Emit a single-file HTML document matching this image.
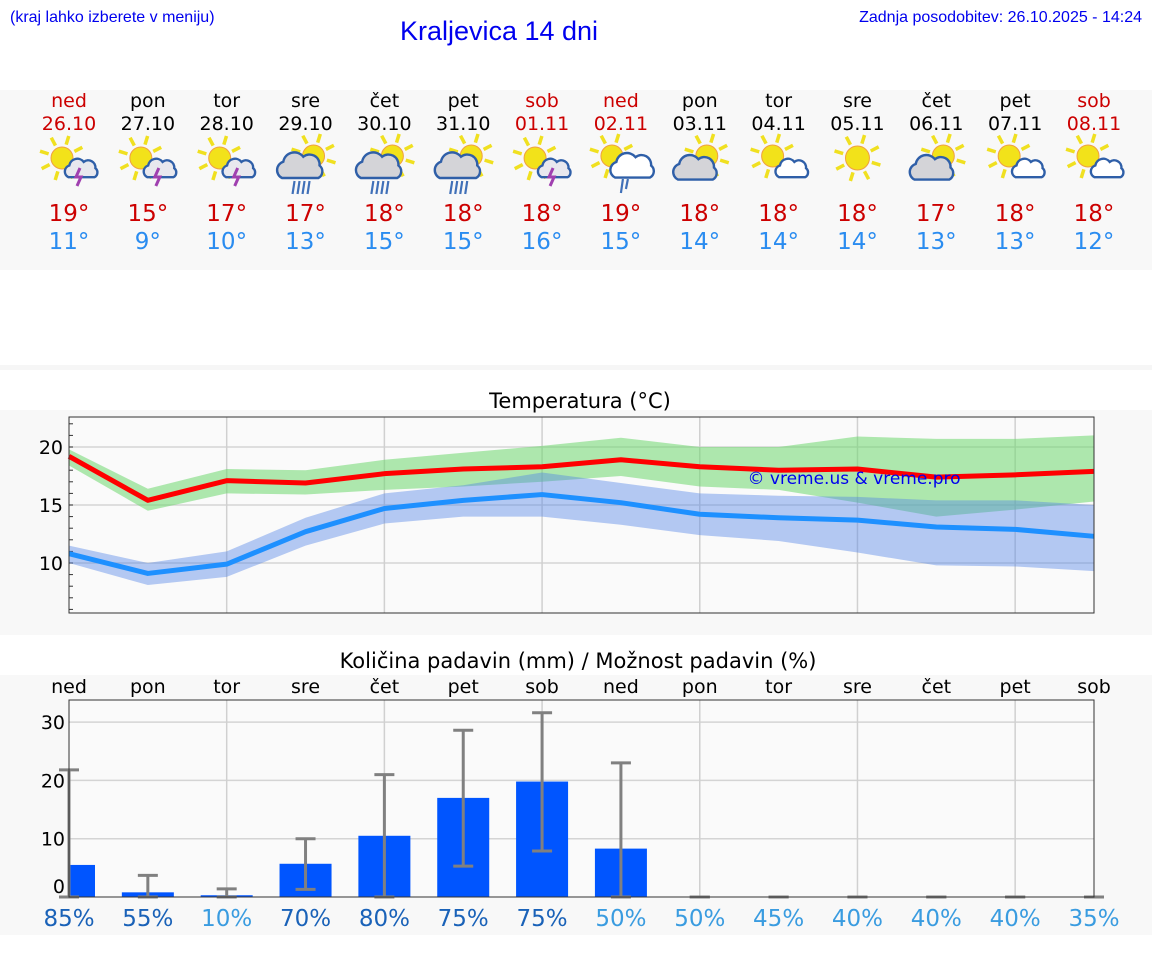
<!DOCTYPE html>
<html><head><meta charset="utf-8">
<style>
html,body{margin:0;padding:0;background:#fff;}
svg{display:block;font-family:"DejaVu Sans","Liberation Sans",sans-serif;}
</style></head>
<body>
<svg id="root" width="1152" height="975" viewBox="0 0 1152 975" xmlns="http://www.w3.org/2000/svg">
  <text x="10" y="22" font-family="Liberation Sans, sans-serif" font-size="16" fill="#0000ee">(kraj lahko izberete v meniju)</text>
  <text x="499" y="40" text-anchor="middle" font-family="Liberation Sans, sans-serif" font-size="27" fill="#0000ee">Kraljevica 14 dni</text>
  <text x="1142" y="22" text-anchor="end" font-family="Liberation Sans, sans-serif" font-size="16" fill="#0000ee">Zadnja posodobitev: 26.10.2025 - 14:24</text>
  <rect x="0" y="90" width="1152" height="180" fill="#f8f8f8"/>
  <rect x="0" y="365" width="1152" height="5" fill="#f6f6f6"/>
  <rect x="0" y="410" width="1152" height="225" fill="#f8f8f8"/>
  <text x="580" y="408" text-anchor="middle" font-size="21" fill="#000">Temperatura (°C)</text>
  <rect x="0" y="675" width="1152" height="260" fill="#f8f8f8"/>
  <text x="578" y="668" text-anchor="middle" font-size="21" fill="#000">Količina padavin (mm) / Možnost padavin (%)</text>
  <g id="strip"></g>
  <g id="temp"></g>
  <g id="precip"></g>
</svg>
<script>
const NS="http://www.w3.org/2000/svg";
const days=["ned","pon","tor","sre","čet","pet","sob","ned","pon","tor","sre","čet","pet","sob"];
const dates=["26.10","27.10","28.10","29.10","30.10","31.10","01.11","02.11","03.11","04.11","05.11","06.11","07.11","08.11"];
const weekend=[1,0,0,0,0,0,1,1,0,0,0,0,0,1];
const iconType=[0,0,0,1,1,1,0,2,3,4,5,3,4,4];
const hiDay=[19,15,17,17,18,18,18,19,18,18,18,17,18,18];
const loDay=[11,9,10,13,15,15,16,15,14,14,14,13,13,12];
const tMax=[19.2,15.4,17.1,16.9,17.7,18.1,18.3,18.9,18.3,18.0,18.1,17.4,17.6,17.9];
const tMaxHi=[19.8,16.4,18.1,18.0,18.9,19.5,20.1,20.8,20.0,20.0,20.9,20.7,20.7,21.0];
const tMaxLo=[18.4,14.5,16.0,15.9,16.3,16.6,17.0,17.5,16.6,16.3,15.2,14.0,14.6,15.3];
const tMin=[10.8,9.1,9.9,12.7,14.7,15.4,15.9,15.2,14.2,13.9,13.7,13.1,12.9,12.3];
const tMinHi=[11.5,10.0,11.0,13.9,16.0,16.7,17.8,16.9,16.0,15.8,15.7,15.4,15.4,15.0];
const tMinLo=[10.0,8.1,8.8,11.5,13.4,14.0,14.0,13.3,12.4,11.9,10.9,9.8,9.7,9.3];
const tTicks=[10,15,20];
const rain=[5.5,0.8,0.3,5.7,10.5,17.0,19.8,8.3,0,0,0,0,0,0];
const rainLo=[0,0,0,1.3,0,5.3,7.9,0,0,0,0,0,0,0];
const rainHi=[21.8,3.7,1.4,10.0,21.0,28.6,31.6,23.0,0,0,0,0,0,0];
const prob=[85,55,10,70,80,75,75,50,50,45,40,40,40,35];
const rTicks=[0,10,20,30];

function mk(tag,attrs,parent,txt){const e=document.createElementNS(NS,tag);for(const k in attrs)e.setAttribute(k,attrs[k]);if(txt!==undefined)e.textContent=txt;parent.appendChild(e);return e;}
const X0=69,X1=1094;
const dx=i=>X0+i*(X1-X0)/13;

const strip=document.getElementById('strip');
function sun(g,cx,cy,r){
  for(let k=0;k<8;k++){const a=k*Math.PI/4+0.3;mk('line',{x1:cx+Math.cos(a)*(r+3),y1:cy+Math.sin(a)*(r+3),x2:cx+Math.cos(a)*(r+12),y2:cy+Math.sin(a)*(r+12),stroke:'#f0e020','stroke-width':3.5},g);}
  mk('circle',{cx:cx,cy:cy,r:r,fill:'#f2e21a',stroke:'#f0a040','stroke-width':1},g);
}
function cloud(g,cx,cy,s,fill){
  mk('path',{d:`M${cx-14*s} ${cy+8*s} a${7*s} ${7*s} 0 0 1 ${1*s} ${-13*s} a${9*s} ${9*s} 0 0 1 ${16*s} ${-4*s} a${8*s} ${8*s} 0 0 1 ${13*s} ${7*s} a${6*s} ${6*s} 0 0 1 ${-1*s} ${10*s} z`,fill:fill,stroke:'#2f5fa8','stroke-width':2.4},g);
}
for(let i=0;i<14;i++){
  const x=dx(i);
  const c=weekend[i]?'#cc0000':'#000';
  const t1=mk('text',{x:x,y:107,'text-anchor':'middle','font-size':19,fill:c},strip,days[i]);
  
  
  const t2=mk('text',{x:x,y:130,'text-anchor':'middle','font-size':19,fill:c},strip,dates[i]);
  
  
  const g=mk('g',{},strip);
  
  
  const t=iconType[i];
  if(t===0){sun(g,x-7,158,11);cloud(g,x+12,170,0.9,'#e8e8ee');mk('path',{d:`M${x+11} 168 l-4 9 h5 l-4 9`,fill:'none',stroke:'#a040b0','stroke-width':3},g);}
  else if(t===1){sun(g,x+8,156,11);cloud(g,x-6,168,1.25,'#d4d4d8');for(let k=0;k<4;k++)mk('line',{x1:x-11+k*5,y1:181,x2:x-13+k*5,y2:194,stroke:'#4070b8','stroke-width':2.2},g);}
  else if(t===2){sun(g,x-9,156,11);cloud(g,x+11,168,1.2,'#fff');mk('line',{x1:x+2,y1:179,x2:x,y2:193,stroke:'#4070b8','stroke-width':2.2},g);mk('line',{x1:x+7,y1:179,x2:x+5,y2:189,stroke:'#4070b8','stroke-width':2.2},g);}
  else if(t===3){sun(g,x+7,156,11);cloud(g,x-5,170,1.2,'#d4d4d8');}
  else if(t===4){sun(g,x-6,156,11);cloud(g,x+13,170,0.9,'#fff');}
  else {sun(g,x,158,12);}
  const h=mk('text',{x:x,y:221,'text-anchor':'middle','font-size':23,fill:'#cc0000'},strip,hiDay[i]+'°');
  
  
  const l=mk('text',{x:x,y:249,'text-anchor':'middle','font-size':23,fill:'#2a8cf0'},strip,loDay[i]+'°');
  
  
}

const tg=document.getElementById('temp');
const TY0=417,TY1=613;
const ty=v=>563-(v-10)*11.6;
mk('rect',{x:X0,y:TY0,width:X1-X0,height:TY1-TY0,fill:'#fafafa'},tg);
for(const v of tTicks){mk('line',{x1:X0,x2:X1,y1:ty(v),y2:ty(v),stroke:'#d4d4d4','stroke-width':1.5},tg);
  const lab=mk('text',{x:X0-6,y:ty(v)+7,'text-anchor':'end','font-size':19,fill:'#000'},tg,String(v));
  
  }
for(let v=6;v<=22;v++)mk('line',{x1:X0,x2:X0+4,y1:ty(v),y2:ty(v),stroke:'#333','stroke-width':1},tg);
for(let i=2;i<14;i+=2)mk('line',{x1:dx(i),x2:dx(i),y1:TY0,y2:TY1,stroke:'#d0d0d0','stroke-width':1.5},tg);
function band(hi,lo,fill,name){let d='';for(let i=0;i<14;i++)d+=(i?'L':'M')+dx(i)+' '+ty(hi[i]);for(let i=13;i>=0;i--)d+='L'+dx(i)+' '+ty(lo[i]);
  const p=mk('path',{d:d+'Z',fill:fill},tg);}
function line(v,stroke,name){const p=mk('polyline',{points:v.map((a,i)=>dx(i)+','+ty(a)).join(' '),fill:'none',stroke:stroke,'stroke-width':5,'stroke-linejoin':'round'},tg);}
band(tMaxHi,tMaxLo,'rgba(110,215,110,0.55)','max-temp-range');
band(tMinHi,tMinLo,'rgba(80,130,230,0.42)','min-temp-range');
line(tMax,'#ff0000','max-temp-line');
line(tMin,'#1e90ff','min-temp-line');
const wm=mk('text',{x:854,y:484,'text-anchor':'middle','font-size':17,fill:'#0000ee'},tg,'© vreme.us & vreme.pro');


mk('rect',{x:X0,y:TY0,width:X1-X0,height:TY1-TY0,fill:'none',stroke:'#333','stroke-width':1},tg);

const pg=document.getElementById('precip');
const PY0=700,PY1=897;
const py=v=>897-v*5.83;
mk('rect',{x:X0,y:PY0,width:X1-X0,height:PY1-PY0,fill:'#fafafa'},pg);
for(const v of rTicks){if(v>0)mk('line',{x1:X0,x2:X1,y1:py(v),y2:py(v),stroke:'#d4d4d4','stroke-width':1.5},pg);
  const lab=mk('text',{x:X0-4,y:(v===0?py(v)-4:py(v)+7),'text-anchor':'end','font-size':19,fill:'#000'},pg,String(v));
  
  }
for(let i=2;i<14;i+=2)mk('line',{x1:dx(i),x2:dx(i),y1:PY0,y2:PY1,stroke:'#d0d0d0','stroke-width':1.5},pg);
for(let i=0;i<14;i++){
  const x=dx(i);
  const dl=mk('text',{x:x,y:693,'text-anchor':'middle','font-size':19,fill:'#000'},pg,days[i]);
  
  
  if(rain[i]>0){const bx=Math.max(X0,x-26),bw=x+26-bx;
    const b=mk('rect',{x:bx,y:py(rain[i]),width:bw,height:PY1-py(rain[i]),fill:'#0055ff'},pg);
    
    }
  const eg=mk('g',{stroke:'#808080','stroke-width':3},pg);
  
  
  mk('line',{x1:x,x2:x,y1:py(rainLo[i]),y2:py(rainHi[i])},eg);
  mk('line',{x1:x-10,x2:x+10,y1:py(rainHi[i]),y2:py(rainHi[i])},eg);
  mk('line',{x1:x-10,x2:x+10,y1:py(rainLo[i]),y2:py(rainLo[i])},eg);
  const pl=mk('text',{x:x,y:926,'text-anchor':'middle','font-size':23,fill:prob[i]>50?'#1a62b8':'#3a9ce0'},pg,prob[i]+'%');
  
  
}
mk('rect',{x:X0,y:PY0,width:X1-X0,height:PY1-PY0,fill:'none',stroke:'#333','stroke-width':1},pg);
</script>
</body></html>
